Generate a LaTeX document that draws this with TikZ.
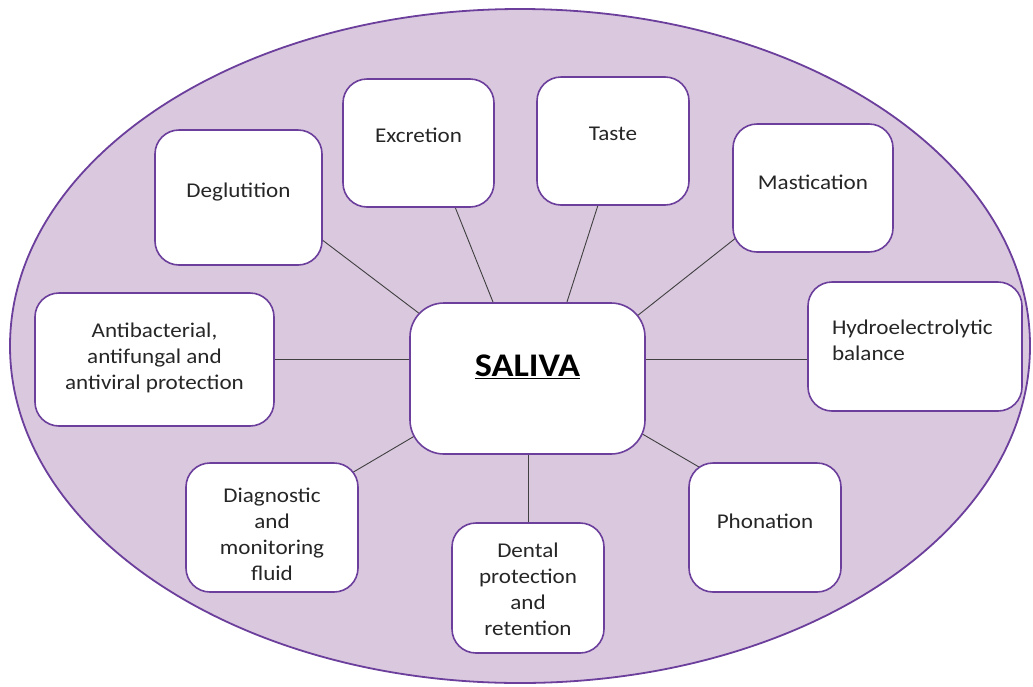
\documentclass[tikz,border=0pt]{standalone}
\usepackage{xcolor}
\usepackage{fontspec}
\usetikzlibrary{positioning}
\newfontfamily\calib[FakeStretch=1.1]{Carlito}
\definecolor{lilac}{RGB}{218,200,223}
\definecolor{plum}{RGB}{107,63,155}
\pgfdeclarelayer{bg}
\pgfdeclarelayer{mid}
\pgfsetlayers{bg,mid,main}

\begin{document}
\begin{tikzpicture}[x=1pt, y=-1pt,
	box/.style={draw=plum, line width=1.6pt, fill=white, rounded corners=24pt, inner sep=0pt},
	lbl/.style={align=center, inner sep=0pt, text=black!85, font=\calib\fontsize{21}{26}\selectfont},
	link/.style={black!75, line width=0.9pt}]
	\useasboundingbox (0,0) rectangle (1033,686);
	
	\begin{pgfonlayer}{bg}
		\draw[plum, line width=1.8pt, fill=lilac] (520,346) ellipse [x radius=510, y radius=337];
	\end{pgfonlayer}
	
	% centre
	\node[box, minimum width=235pt, minimum height=151pt, rounded corners=34pt,
		label={[lbl, yshift=12pt, text=black, font=\calib\bfseries\fontsize{33}{36}\selectfont]center:\underline{SALIVA}}] (saliva) at (527.5,378.5) {};
	
	% functions
	\node[box, minimum width=167pt, minimum height=135pt, label={[lbl, yshift=5pt]center:Deglutition}] (deg) at (238.5,197.5) {};
	\node[box, minimum width=151pt, minimum height=128pt, label={[lbl, yshift=8pt]center:Excretion}] (exc) at (418.5,143) {};
	\node[box, minimum width=152pt, minimum height=128pt, label={[lbl, yshift=7pt]center:Taste}] (taste) at (613,141) {};
	\node[box, minimum width=160pt, minimum height=128pt, label={[lbl, yshift=6pt]center:Mastication}] (mast) at (813,188) {};
	\node[box, minimum width=214pt, minimum height=129pt,
		label={[lbl, yshift=6.5pt, align=left, text width=166pt]center:{Hydroelectrolytic\\balance}}] (hydro) at (915,346.5) {};
	\node[box, minimum width=239pt, minimum height=133pt,
		label={[lbl, yshift=2pt]center:{Antibacterial,\\antifungal and\\antiviral protection}}] (anti) at (154.5,359.5) {};
	\node[box, minimum width=172pt, minimum height=129pt,
		label={[lbl, yshift=-6.5pt]center:{Diagnostic\\and\\monitoring\\fluid}}] (diag) at (272,527.5) {};
	\node[box, minimum width=152pt, minimum height=130pt,
		label={[lbl, yshift=-1.5pt]center:{Dental\\protection\\and\\retention}}] (dental) at (528,588) {};
	\node[box, minimum width=152pt, minimum height=129pt, label={[lbl, yshift=6pt]center:Phonation}] (phon) at (765,527.5) {};
	
	\begin{pgfonlayer}{mid}
		\draw[link] ([yshift=-17pt]saliva.center) -- ([yshift=21pt]deg.center);
		\draw[link] ([xshift=-4pt]saliva.center) -- ([xshift=11pt]exc.center);
		\draw[link] ([xshift=15pt]saliva.center) -- ([xshift=5.5pt]taste.center);
		\draw[link] ([yshift=-24pt]saliva.center) -- ([yshift=11pt]mast.center);
		\draw[link] (saliva.center |- anti.east) -- (hydro.west |- anti.east);
		\draw[link] (saliva.center |- anti.east) -- (anti.east);
		\draw[link] ([yshift=9pt]saliva.center) -- ([yshift=7.5pt]diag.center);
		\draw[link] (dental.north) -- (dental.north |- saliva.center);
		\draw[link] ([yshift=11.5pt]saliva.center) -- ([yshift=22pt]phon.center);
	\end{pgfonlayer}
\end{tikzpicture}
\end{document}
